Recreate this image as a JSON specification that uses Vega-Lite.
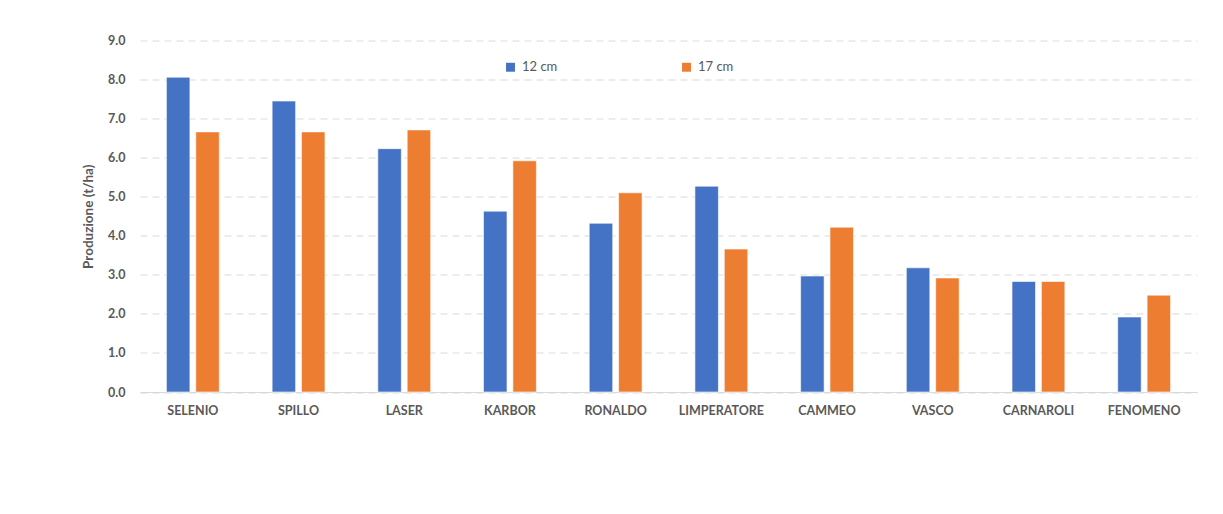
{
  "$schema": "https://vega.github.io/schema/vega-lite/v6.json",
  "width": 1057,
  "height": 351.5,
  "autosize": {"type": "none"},
  "padding": {"left": 140, "top": 40.5, "right": 26, "bottom": 122},
  "background": "white",
  "config": {
    "view": {"stroke": null},
    "font": "Lato"
  },
  "data": {
    "values": [
      {"varieta": "SELENIO", "serie": "12 cm", "valore": 8.06},
      {"varieta": "SELENIO", "serie": "17 cm", "valore": 6.66},
      {"varieta": "SPILLO", "serie": "12 cm", "valore": 7.45},
      {"varieta": "SPILLO", "serie": "17 cm", "valore": 6.66},
      {"varieta": "LASER", "serie": "12 cm", "valore": 6.23},
      {"varieta": "LASER", "serie": "17 cm", "valore": 6.71},
      {"varieta": "KARBOR", "serie": "12 cm", "valore": 4.63},
      {"varieta": "KARBOR", "serie": "17 cm", "valore": 5.92},
      {"varieta": "RONALDO", "serie": "12 cm", "valore": 4.32},
      {"varieta": "RONALDO", "serie": "17 cm", "valore": 5.10},
      {"varieta": "LIMPERATORE", "serie": "12 cm", "valore": 5.27},
      {"varieta": "LIMPERATORE", "serie": "17 cm", "valore": 3.66},
      {"varieta": "CAMMEO", "serie": "12 cm", "valore": 2.97},
      {"varieta": "CAMMEO", "serie": "17 cm", "valore": 4.22},
      {"varieta": "VASCO", "serie": "12 cm", "valore": 3.18},
      {"varieta": "VASCO", "serie": "17 cm", "valore": 2.92},
      {"varieta": "CARNAROLI", "serie": "12 cm", "valore": 2.83},
      {"varieta": "CARNAROLI", "serie": "17 cm", "valore": 2.83},
      {"varieta": "FENOMENO", "serie": "12 cm", "valore": 1.92},
      {"varieta": "FENOMENO", "serie": "17 cm", "valore": 2.48}
    ]
  },
  "mark": {"type": "bar", "stroke": "white", "strokeWidth": 0.6},
  "encoding": {
    "x": {
      "field": "varieta",
      "type": "nominal",
      "sort": null,
      "scale": {"paddingInner": 0.5, "paddingOuter": 0.25},
      "axis": {
        "title": null,
        "labelAngle": 0,
        "labelFont": "Lato",
        "labelFontWeight": "bold",
        "labelFontSize": 12.5,
        "labelColor": "#595959",
        "labelPadding": 12,
        "ticks": false,
        "domainColor": "#d9d9d9",
        "domainWidth": 1.2
      }
    },
    "xOffset": {
      "field": "serie",
      "type": "nominal",
      "scale": {"paddingInner": 0.2, "paddingOuter": 0}
    },
    "y": {
      "field": "valore",
      "type": "quantitative",
      "scale": {"domain": [0, 9], "nice": false},
      "axis": {
        "title": "Produzione (t/ha)",
        "titleFont": "Lato",
        "titleFontSize": 13.5,
        "titleFontWeight": "bold",
        "titleColor": "#595959",
        "titleX": -45,
        "values": [0, 1, 2, 3, 4, 5, 6, 7, 8, 9],
        "format": ".1f",
        "labelFont": "Lato",
        "labelFontWeight": "bold",
        "labelFontSize": 12.5,
        "labelColor": "#595959",
        "labelPadding": 15,
        "ticks": false,
        "domain": false,
        "gridColor": "#d9d9d9",
        "gridDash": [7, 5],
        "gridWidth": 1.2
      }
    },
    "color": {
      "field": "serie",
      "type": "nominal",
      "scale": {"domain": ["12 cm", "17 cm"], "range": ["#4472C4", "#ED7D31"]},
      "legend": {
        "title": null,
        "orient": "none",
        "direction": "horizontal",
        "legendX": 364,
        "legendY": 20,
        "symbolType": "square",
        "symbolSize": 80,
        "symbolStrokeWidth": 0,
        "labelFont": "Lato",
        "labelFontSize": 13,
        "labelColor": "#595959",
        "labelOffset": 5,
        "columnPadding": 122
      }
    }
  }
}
